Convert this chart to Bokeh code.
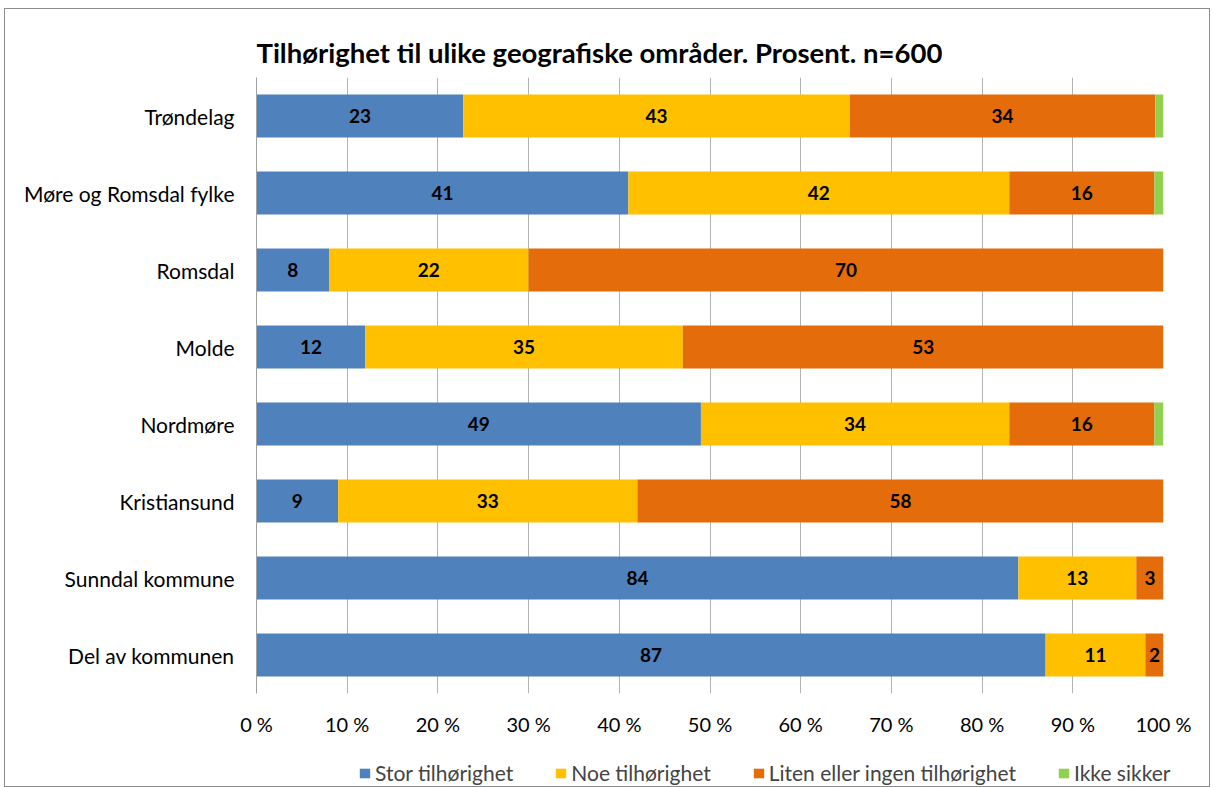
from bokeh.plotting import figure
from bokeh.layouts import column
from bokeh.models import (ColumnDataSource, FactorRange, Range1d, Legend, LegendItem,
                          FixedTicker, PrintfTickFormatter)
from bokeh.embed import file_html
from bokeh.resources import INLINE
from bokeh.core.properties import value

categories = ["Trøndelag", "Møre og Romsdal fylke", "Romsdal", "Molde",
              "Nordmøre", "Kristiansund", "Sunndal kommune", "Del av kommunen"]
series_names = ["Stor tilhørighet", "Noe tilhørighet",
                "Liten eller ingen tilhørighet", "Ikke sikker"]
stor = [22.8, 41, 8, 12, 49, 9, 84, 87]
noe = [42.6, 42, 22, 35, 34, 33, 13, 11]
liten = [33.7, 16, 70, 53, 16, 58, 3, 2]
ikke = [0.9, 1, 0, 0, 1, 0, 0, 0]
tick_values = [0, 10, 20, 30, 40, 50, 60, 70, 80, 90, 100]

colors = ["#4F81BD", "#FFC000", "#E46C0A", "#92D050"]
FONT = "Lato"

keys = ["stor", "noe", "liten", "ikke"]
src = ColumnDataSource(dict(cat=categories, stor=stor, noe=noe, liten=liten, ikke=ikke))

p = figure(width=1204, height=729, output_backend="svg", toolbar_location=None,
           y_range=FactorRange(*reversed(categories), range_padding=0),
           x_range=Range1d(0, 100),
           min_border_left=251, min_border_right=46, min_border_top=68, min_border_bottom=45)

renderers = p.hbar_stack(keys, y="cat", height=0.56, color=colors, source=src, line_color=None)

# data labels
lx, ly, lt = [], [], []
for i, c in enumerate(categories):
    left = 0
    for arr in (stor, noe, liten, ikke):
        v = arr[i]
        if v >= 1.5:
            lx.append(left + v / 2)
            ly.append(c)
            lt.append(str(int(round(v))))
        left += v
p.text(x=lx, y=ly, text=lt, text_align="center", text_baseline="middle",
       text_font=value(FONT), text_font_style="bold", text_font_size="19px", text_color="black")

# title
p.title.text = "Tilhørighet til ulike geografiske områder. Prosent. n=600"
p.title.align = "left"
p.title.text_font = FONT
p.title.text_font_size = "27.5px"
p.title.text_font_style = "bold"
p.title.text_color = "black"
p.title.standoff = 18

# axes
p.xaxis.ticker = FixedTicker(ticks=tick_values)
p.xaxis.formatter = PrintfTickFormatter(format="%d %%")
p.xaxis.axis_line_color = None
p.xaxis.major_tick_line_color = None
p.xaxis.minor_tick_line_color = None
p.xaxis.major_tick_out = 0
p.xaxis.major_tick_in = 0
p.xaxis.major_label_standoff = 18
p.xaxis.major_label_text_font = FONT
p.xaxis.major_label_text_font_size = "20px"
p.xaxis.major_label_text_color = "black"

p.yaxis.axis_line_color = "#A0A0A0"
p.yaxis.major_tick_line_color = None
p.yaxis.minor_tick_line_color = None
p.yaxis.major_tick_out = 0
p.yaxis.major_tick_in = 0
p.yaxis.major_label_standoff = 22
p.yaxis.major_label_text_font = FONT
p.yaxis.major_label_text_font_size = "21px"
p.yaxis.major_label_text_color = "black"

p.xgrid.grid_line_color = "#B4B4B4"
p.xgrid.ticker = FixedTicker(ticks=tick_values)
p.ygrid.grid_line_color = None
p.outline_line_color = None

# legend strip below the chart
pl = figure(width=1204, height=48, output_backend="svg", toolbar_location=None,
            x_range=Range1d(0, 1), y_range=Range1d(0, 1),
            min_border_left=0, min_border_right=0, min_border_top=0, min_border_bottom=0)
pl.frame_align = False
pl.axis.visible = False
pl.grid.grid_line_color = None
pl.outline_line_color = None
# off-screen swatch glyphs used only as legend keys
dummies = [pl.hbar(y=[5], left=[5], right=[6], height=0.1, fill_color=c, line_color=None)
           for c in colors]
legend = Legend(items=[LegendItem(label=n, renderers=[r]) for n, r in zip(series_names, dummies)],
                orientation="horizontal", location=(353, 1),
                glyph_width=13, glyph_height=12, label_standoff=4, spacing=41,
                padding=0, margin=0, border_line_color=None, background_fill_alpha=0,
                label_text_font=FONT, label_text_font_size="21px", label_height=20)
pl.add_layout(legend, "center")

layout = column(p, pl, spacing=0)
layout.styles = {"border": "1px solid #8C8C8C", "margin-left": "4px", "margin-top": "8px"}

open("out.html", "w").write(file_html(layout, INLINE))
